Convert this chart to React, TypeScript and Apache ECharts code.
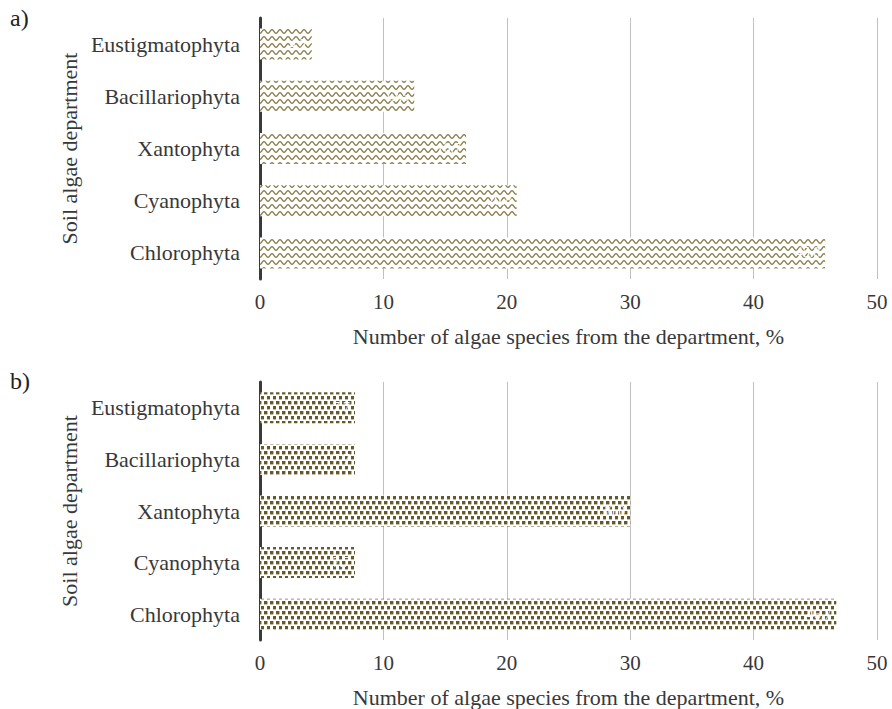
import React, { useEffect, useRef } from 'react';
import * as echarts from 'echarts';

const categories = ['Chlorophyta', 'Cyanophyta', 'Xantophyta', 'Bacillariophyta', 'Eustigmatophyta'];
const valuesA = [45.8, 20.8, 16.7, 12.5, 4.2];
const valuesB = [46.7, 7.7, 30.0, 7.7, 7.7];
const panelLabels = ['a)', 'b)'];
const xAxisName = 'Number of algae species from the department, %';
const yAxisName = 'Soil algae department';

const FONT = '"Liberation Serif", "DejaVu Serif", serif';

function wavePattern() {
  const s = 4;
  const c = document.createElement('canvas');
  c.width = 8 * s;
  c.height = 7 * s;
  const ctx = c.getContext('2d')!;
  ctx.fillStyle = '#ffffff';
  ctx.fillRect(0, 0, c.width, c.height);
  ctx.strokeStyle = '#877b48';
  ctx.lineWidth = 1.3 * s;
  ctx.beginPath();
  for (let x = -1; x <= 9; x += 0.25) {
    const y = 3.5 - 1.8 * Math.cos((2 * Math.PI * x) / 8);
    if (x === -1) ctx.moveTo(x * s, y * s);
    else ctx.lineTo(x * s, y * s);
  }
  ctx.stroke();
  return { image: c, repeat: 'repeat', imageWidth: 8, imageHeight: 7 };
}

function dotPattern() {
  const s = 4;
  const c = document.createElement('canvas');
  c.width = 6 * s;
  c.height = 10 * s;
  const ctx = c.getContext('2d')!;
  ctx.fillStyle = '#ffffff';
  ctx.fillRect(0, 0, c.width, c.height);
  ctx.fillStyle = '#66592a';
  const d = 3.4 * s;
  ctx.fillRect(0, 1 * s, d, d);
  ctx.fillRect(3 * s, 6 * s, d, d);
  return { image: c, repeat: 'repeat', imageWidth: 6, imageHeight: 10 };
}

export default function App() {
  const ref = useRef<HTMLDivElement>(null);
  useEffect(() => {
    if (!ref.current) return;
    const chart = echarts.init(ref.current, null, { renderer: 'svg' });
    const grids = [
      { left: 260, right: 15, top: 18, height: 261 },
      { left: 260, right: 15, top: 382, height: 262 },
    ];
    const xAxis = grids.map((_, i) => ({
      type: 'value',
      gridIndex: i,
      min: 0,
      max: 50,
      interval: 10,
      axisLine: { show: false },
      axisTick: { show: false },
      splitLine: { show: true, lineStyle: { color: '#c0c0c0', width: 1 } },
      axisLabel: { fontFamily: FONT, fontSize: 21, color: '#383838', margin: 12 },
      name: xAxisName,
      nameLocation: 'middle',
      nameGap: 46,
      nameTextStyle: { fontFamily: FONT, fontSize: 22, color: '#383838' },
    }));
    const yAxis = grids.map((_, i) => ({
      type: 'category',
      gridIndex: i,
      data: categories,
      axisLine: { show: true, lineStyle: { color: '#3a3a3a', width: 3 } },
      axisTick: { show: false },
      axisLabel: { fontFamily: FONT, fontSize: 22, color: '#383838', margin: 20 },
      name: yAxisName,
      nameLocation: 'middle',
      nameGap: 178,
      nameTextStyle: { fontFamily: FONT, fontSize: 22, color: '#383838' },
    }));
    const mkSeries = (data: number[], i: number, color: any) => ({
      type: 'bar',
      xAxisIndex: i,
      yAxisIndex: i,
      data,
      barWidth: 31,
      itemStyle: { color },
      label: {
        show: true,
        position: 'insideRight',
        color: '#ffffff',
        fontFamily: FONT,
        fontSize: 14,
        formatter: (p: any) => Number(p.value).toFixed(1),
      },
    });
    chart.setOption({
      animation: false,
      backgroundColor: '#ffffff',
      grid: grids,
      xAxis,
      yAxis,
      series: [mkSeries(valuesA, 0, wavePattern()), mkSeries(valuesB, 1, dotPattern())],
      graphic: [
        { type: 'text', left: 10, top: 6, style: { text: panelLabels[0], font: `24px ${FONT}`, fill: '#222' } },
        { type: 'text', left: 10, top: 369, style: { text: panelLabels[1], font: `24px ${FONT}`, fill: '#222' } },
      ],
    });
    return () => chart.dispose();
  }, []);
  return <div ref={ref} style={{ position: 'absolute', left: 0, top: 0, width: 892, height: 709 }} />;
}
